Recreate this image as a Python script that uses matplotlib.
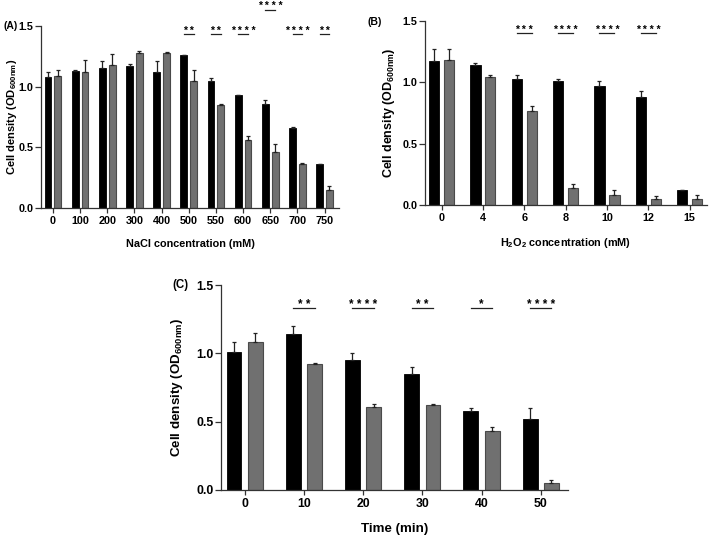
import matplotlib
matplotlib.use("Agg")
import matplotlib.pyplot as plt
import numpy as np

plt.rcParams['font.family'] = ['Liberation Sans', 'DejaVu Sans']
plt.rcParams['font.weight'] = 'bold'
plt.rcParams['mathtext.fontset'] = 'custom'
plt.rcParams['mathtext.rm'] = 'Liberation Sans:bold'
plt.rcParams['mathtext.bf'] = 'Liberation Sans:bold'
plt.rcParams['mathtext.default'] = 'bf'

# (A) NaCl stress
nacl_labels = ['0', '100', '200', '300', '400', '500', '550', '600', '650', '700', '750']
nacl_black = [1.08, 1.13, 1.15, 1.17, 1.12, 1.26, 1.05, 0.93, 0.86, 0.66, 0.36]
nacl_black_err = [0.04, 0.005, 0.06, 0.02, 0.09, 0.005, 0.02, 0.005, 0.03, 0.005, 0.004]
nacl_gray = [1.09, 1.12, 1.18, 1.28, 1.28, 1.05, 0.85, 0.56, 0.46, 0.36, 0.15]
nacl_gray_err = [0.05, 0.10, 0.09, 0.01, 0.005, 0.09, 0.005, 0.03, 0.07, 0.01, 0.03]
nacl_sig = {5: '* *', 6: '* *', 7: '* * * *', 8: '* * * *', 9: '* * * *', 10: '* *'}

# (B) H2O2 stress
h2o2_labels = ['0', '4', '6', '8', '10', '12', '15']
h2o2_black = [1.17, 1.14, 1.03, 1.01, 0.97, 0.88, 0.12]
h2o2_black_err = [0.10, 0.02, 0.03, 0.02, 0.04, 0.05, 0.005]
h2o2_gray = [1.18, 1.04, 0.77, 0.14, 0.08, 0.05, 0.05]
h2o2_gray_err = [0.09, 0.02, 0.04, 0.03, 0.04, 0.02, 0.03]
h2o2_sig = {2: '* * *', 3: '* * * *', 4: '* * * *', 5: '* * * *'}

# (C) time course
time_labels = ['0', '10', '20', '30', '40', '50']
time_black = [1.01, 1.14, 0.95, 0.85, 0.58, 0.52]
time_black_err = [0.07, 0.06, 0.05, 0.05, 0.02, 0.08]
time_gray = [1.08, 0.92, 0.61, 0.62, 0.43, 0.05]
time_gray_err = [0.07, 0.01, 0.02, 0.01, 0.03, 0.02]
time_sig = {1: '* *', 2: '* * * *', 3: '* *', 4: '*', 5: '* * * *'}


def draw_panel(ax, labels, black, black_err, gray, gray_err, sig, xlabel,
               xlim, sig_y, tick_fs, xlab_fs, ylab_fs, star_fs, ylab_x,
               width=0.25, off=0.18, extra_sig=None):
    x = np.arange(len(labels))
    ax.bar(x - off, black, width, color='black', edgecolor='black', linewidth=0.6)
    ax.bar(x + off, gray, width, color='#707070', edgecolor='#4a4a4a', linewidth=0.8)
    ax.errorbar(x - off, black, yerr=[np.zeros(len(x)), black_err], fmt='none',
                ecolor='#222222', elinewidth=0.9, capsize=1.6, capthick=0.9)
    ax.errorbar(x + off, gray, yerr=[np.zeros(len(x)), gray_err], fmt='none',
                ecolor='#222222', elinewidth=0.9, capsize=1.6, capthick=0.9)
    for i, s in sig.items():
        y = sig_y
        if extra_sig and i in extra_sig:
            y = extra_sig[i]
        ax.plot([i - off, i + off], [y, y], color='#222222', lw=0.9, clip_on=False)
        ax.annotate(s, xy=(i, y), xytext=(0, 0.5), textcoords='offset points',
                    ha='center', va='baseline', fontsize=star_fs,
                    fontweight='bold', annotation_clip=False)
    ax.set_xlim(*xlim)
    ax.set_ylim(0, 1.5)
    ax.set_yticks([0, 0.5, 1.0, 1.5])
    ax.set_yticklabels(['0.0', '0.5', '1.0', '1.5'])
    ax.set_xticks(x)
    ax.set_xticklabels(labels)
    for sp in ['top', 'right']:
        ax.spines[sp].set_visible(False)
    for sp in ['left', 'bottom']:
        ax.spines[sp].set_linewidth(0.9)
        ax.spines[sp].set_color('#333333')
    ax.tick_params(axis='both', labelsize=tick_fs, width=0.9, color='#333333')
    ax.tick_params(axis='y', length=4.5, pad=1)
    ax.tick_params(axis='x', length=3.6, pad=2.5)
    ax.set_ylabel('Cell density (OD$_{600nm}$)', fontsize=ylab_fs, fontweight='bold')
    ax.yaxis.set_label_coords(ylab_x, 0.5)
    ax.set_xlabel(xlabel, fontsize=xlab_fs, fontweight='bold', labelpad=9)


fig = plt.figure(figsize=(7.09, 5.37), dpi=100)

axA = fig.add_axes([41 / 709, 1 - 208 / 537, 298 / 709, 182 / 537])
draw_panel(axA, nacl_labels, nacl_black, nacl_black_err, nacl_gray, nacl_gray_err,
           nacl_sig, 'NaCl concentration (mM)', (-0.44, 10.53), 1.43,
           tick_fs=7.8, xlab_fs=7.8, ylab_fs=8.0, star_fs=7.5, ylab_x=-0.075,
           extra_sig={8: 1.635})

axB = fig.add_axes([425 / 709, 1 - 205 / 537, 282 / 709, 184 / 537])
draw_panel(axB, h2o2_labels, h2o2_black, h2o2_black_err, h2o2_gray, h2o2_gray_err,
           h2o2_sig, 'H$_2$O$_2$ concentration (mM)', (-0.4, 6.42), 1.40,
           tick_fs=7.8, xlab_fs=7.8, ylab_fs=9, star_fs=7.5, ylab_x=-0.10)

axC = fig.add_axes([221 / 709, 1 - 490 / 537, 347 / 709, 205 / 537])
draw_panel(axC, time_labels, time_black, time_black_err, time_gray, time_gray_err,
           time_sig, 'Time (min)', (-0.40, 5.46), 1.33,
           tick_fs=8.8, xlab_fs=9.6, ylab_fs=9.6, star_fs=8.5, ylab_x=-0.105)

fig.text(3 / 709, 1 - 26 / 537, '(A)', fontsize=7.5, fontweight='bold', va='center')
fig.text(367 / 709, 1 - 22 / 537, '(B)', fontsize=7.5, fontweight='bold', va='center')
fig.text(172 / 709, 1 - 285 / 537, '(C)', fontsize=8.3, fontweight='bold', va='center')

fig.savefig('out.png', dpi=100)
